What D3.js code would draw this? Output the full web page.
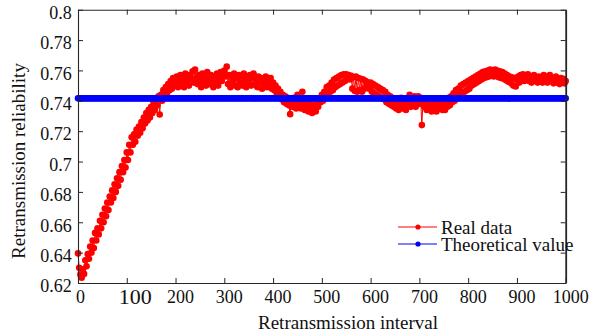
<!DOCTYPE html>
<html>
<head>
<meta charset="utf-8">
<script src="https://cdn.jsdelivr.net/npm/d3@7"></script>
<style>
  html, body { margin: 0; padding: 0; background: #fff; }
  svg { display: block; font-family: "Liberation Serif", "Times New Roman", serif; }
</style>
</head>
<body>
<svg id="chart" width="595" height="335"></svg>
<script>
// ---- data ----
const intervals = d3.range(0, 1000.1, 2.5); // retransmission interval (x), 401 samples
const realData = [
  // 0 - 47.5
  0.6395, 0.6300, 0.6255, 0.6235, 0.6290, 0.6260, 0.6350, 0.6310, 0.6390, 0.6360,
  0.6440, 0.6400, 0.6480, 0.6430, 0.6530, 0.6480, 0.6560, 0.6520, 0.6610, 0.6560,
  // 50 - 97.5
  0.6650, 0.6600, 0.6690, 0.6640, 0.6730, 0.6680, 0.6770, 0.6730, 0.6810, 0.6760,
  0.6850, 0.6800, 0.6890, 0.6840, 0.6930, 0.6880, 0.6970, 0.6930, 0.7010, 0.6960,
  // 100 - 147.5
  0.7060, 0.7010, 0.7110, 0.7060, 0.7160, 0.7110, 0.7180, 0.7130, 0.7210, 0.7170,
  0.7230, 0.7190, 0.7260, 0.7220, 0.7290, 0.7250, 0.7320, 0.7270, 0.7340, 0.7290,
  // 150 - 197.5
  0.7360, 0.7320, 0.7390, 0.7340, 0.7410, 0.7370, 0.7430, 0.7310, 0.7440, 0.7400,
  0.7470, 0.7430, 0.7490, 0.7450, 0.7510, 0.7470, 0.7530, 0.7480, 0.7550, 0.7500,
  // 200 - 247.5
  0.7520, 0.7560, 0.7490, 0.7540, 0.7570, 0.7510, 0.7550, 0.7490, 0.7580, 0.7530,
  0.7560, 0.7500, 0.7570, 0.7540, 0.7595, 0.7520, 0.7605, 0.7550, 0.7510, 0.7570,
  // 250 - 297.5
  0.7540, 0.7490, 0.7580, 0.7520, 0.7560, 0.7500, 0.7590, 0.7540, 0.7510, 0.7570,
  0.7530, 0.7490, 0.7560, 0.7520, 0.7580, 0.7500, 0.7550, 0.7590, 0.7530, 0.7570,
  // 300 - 347.5
  0.7600, 0.7560, 0.7625, 0.7510, 0.7570, 0.7490, 0.7560, 0.7530, 0.7580, 0.7500,
  0.7550, 0.7490, 0.7570, 0.7520, 0.7560, 0.7500, 0.7580, 0.7530, 0.7490, 0.7560,
  // 350 - 397.5
  0.7520, 0.7570, 0.7500, 0.7550, 0.7580, 0.7510, 0.7540, 0.7490, 0.7560, 0.7520,
  0.7550, 0.7480, 0.7540, 0.7510, 0.7560, 0.7490, 0.7530, 0.7500, 0.7550, 0.7480,
  // 400 - 447.5
  0.7520, 0.7470, 0.7500, 0.7450, 0.7480, 0.7430, 0.7460, 0.7410, 0.7440, 0.7390,
  0.7430, 0.7380, 0.7420, 0.7370, 0.7312, 0.7400, 0.7360, 0.7420, 0.7380, 0.7350,
  // 450 - 497.5
  0.7440, 0.7370, 0.7400, 0.7350, 0.7460, 0.7380, 0.7340, 0.7410, 0.7360, 0.7330,
  0.7390, 0.7350, 0.7320, 0.7370, 0.7340, 0.7330, 0.7380, 0.7360, 0.7410, 0.7390,
  // 500 - 547.5
  0.7440, 0.7400, 0.7460, 0.7420, 0.7490, 0.7440, 0.7500, 0.7460, 0.7520, 0.7470,
  0.7540, 0.7490, 0.7550, 0.7500, 0.7560, 0.7510, 0.7570, 0.7520, 0.7575, 0.7530,
  // 550 - 597.5
  0.7575, 0.7550, 0.7570, 0.7540, 0.7565, 0.7480, 0.7555, 0.7465, 0.7560, 0.7460,
  0.7550, 0.7470, 0.7545, 0.7460, 0.7540, 0.7480, 0.7530, 0.7500, 0.7520, 0.7480,
  // 600 - 647.5
  0.7520, 0.7460, 0.7510, 0.7450, 0.7500, 0.7440, 0.7490, 0.7430, 0.7480, 0.7420,
  0.7470, 0.7410, 0.7460, 0.7390, 0.7440, 0.7380, 0.7430, 0.7370, 0.7420, 0.7360,
  // 650 - 697.5
  0.7400, 0.7350, 0.7390, 0.7340, 0.7380, 0.7420, 0.7350, 0.7400, 0.7370, 0.7340,
  0.7410, 0.7380, 0.7440, 0.7360, 0.7410, 0.7380, 0.7430, 0.7360, 0.7400, 0.7430,
  // 700 - 747.5
  0.7380, 0.7420, 0.7240, 0.7400, 0.7360, 0.7410, 0.7340, 0.7380, 0.7350, 0.7400,
  0.7330, 0.7370, 0.7340, 0.7390, 0.7330, 0.7360, 0.7400, 0.7350, 0.7380, 0.7340,
  // 750 - 797.5
  0.7380, 0.7340, 0.7400, 0.7360, 0.7420, 0.7370, 0.7430, 0.7390, 0.7450, 0.7400,
  0.7470, 0.7420, 0.7480, 0.7440, 0.7500, 0.7450, 0.7510, 0.7460, 0.7520, 0.7470,
  // 800 - 847.5
  0.7530, 0.7480, 0.7540, 0.7500, 0.7550, 0.7510, 0.7560, 0.7520, 0.7570, 0.7530,
  0.7580, 0.7540, 0.7590, 0.7550, 0.7595, 0.7555, 0.7600, 0.7560, 0.7605, 0.7570,
  // 850 - 897.5
  0.7600, 0.7560, 0.7605, 0.7565, 0.7600, 0.7555, 0.7595, 0.7550, 0.7590, 0.7545,
  0.7580, 0.7535, 0.7570, 0.7525, 0.7560, 0.7515, 0.7555, 0.7500, 0.7550, 0.7495,
  // 900 - 947.5
  0.7540, 0.7560, 0.7520, 0.7570, 0.7540, 0.7575, 0.7530, 0.7560, 0.7545, 0.7575,
  0.7530, 0.7560, 0.7520, 0.7550, 0.7570, 0.7530, 0.7550, 0.7520, 0.7560, 0.7530,
  // 950 - 1000
  0.7550, 0.7520, 0.7570, 0.7540, 0.7560, 0.7520, 0.7545, 0.7570, 0.7530, 0.7550,
  0.7515, 0.7545, 0.7560, 0.7520, 0.7540, 0.7510, 0.7550, 0.7525, 0.7545, 0.7515,
  0.7530
];
const theoreticalValue = 0.7416;
const xTicks = [0, 100, 200, 300, 400, 500, 600, 700, 800, 900, 1000];
const yTicks = [0.62, 0.64, 0.66, 0.68, 0.7, 0.72, 0.74, 0.76, 0.78, 0.8];
const yTickLabels = ["0.62", "0.64", "0.66", "0.68", "0.7", "0.72", "0.74", "0.76", "0.78", "0.8"];
const legendLabels = ["Real data", "Theoretical value"];
const seriesColors = ["#ff0000", "#0000ff"];

// ---- layout ----
const svg = d3.select("#chart");
const L = 78, R = 565.7, T = 9.7, B = 283;
const x = d3.scaleLinear().domain([0, 1000]).range([L, R]);
const y = d3.scaleLinear().domain([0.62, 0.8]).range([B, T]);

const realPts = intervals.map((v, i) => [v, realData[i]]);
const theoPts = intervals.map(v => [v, theoreticalValue]);

const line = d3.line().x(d => x(d[0])).y(d => y(d[1]));

function drawSeries(pts, color, r) {
  const g = svg.append("g");
  g.append("path").attr("d", line(pts)).attr("fill", "none")
    .attr("stroke", color).attr("stroke-width", 1);
  g.selectAll("circle").data(pts).join("circle")
    .attr("cx", d => x(d[0])).attr("cy", d => y(d[1])).attr("r", r)
    .attr("fill", color);
}
drawSeries(realPts, seriesColors[0], 3.3);
drawSeries(theoPts, seriesColors[1], 3.3);

// ---- axes ----
const axisColor = "#262626";
function styleAxis(g) {
  g.selectAll("path.domain").attr("stroke", axisColor).attr("stroke-width", 1.1);
  g.selectAll(".tick line").attr("stroke", axisColor).attr("stroke-width", 1);
}
const gx = svg.append("g").attr("transform", `translate(0,${B})`)
  .call(d3.axisBottom(x).tickValues(xTicks).tickSizeInner(-5).tickSizeOuter(0).tickPadding(7).tickFormat(d3.format("d")));
styleAxis(gx);
gx.selectAll(".tick text").attr("font-family", "Liberation Serif").attr("font-size", 18)
  .attr("fill", "#111").attr("dx", d => d === 0 ? 2 : 4.5);
gx.selectAll(".tick text").filter(d => d === 100).attr("font-size", 22).attr("dx", 8).attr("y", 5);

const gy = svg.append("g").attr("transform", `translate(${L},0)`)
  .call(d3.axisLeft(y).tickValues(yTicks).tickSizeInner(-5).tickSizeOuter(0).tickPadding(6.3)
    .tickFormat((d, i) => yTickLabels[i]));
styleAxis(gy);
gy.selectAll(".tick text").attr("font-family", "Liberation Serif").attr("font-size", 18)
  .attr("fill", "#111").attr("y", 3);

const gt = svg.append("g").attr("transform", `translate(0,${T})`)
  .call(d3.axisTop(x).tickValues(xTicks).tickSizeInner(-5).tickSizeOuter(0).tickFormat(""));
styleAxis(gt);
const gr = svg.append("g").attr("transform", `translate(${R},0)`)
  .call(d3.axisRight(y).tickValues(yTicks).tickSizeInner(-5).tickSizeOuter(0).tickFormat(""));
styleAxis(gr);
gr.select("path.domain").attr("stroke-width", 1.8);

// ---- titles ----
svg.append("text").attr("x", 348).attr("y", 329).attr("text-anchor", "middle")
  .attr("font-size", 19).attr("fill", "#111").text("Retransmission interval");
svg.append("text").attr("transform", "translate(25,161) rotate(-90)").attr("text-anchor", "middle")
  .attr("font-size", 19).attr("fill", "#111").text("Retransmission reliability");

// ---- legend ----
const legend = svg.append("g");
legendLabels.forEach((lab, i) => {
  const ly = 227 + i * 17;
  legend.append("line").attr("x1", 398).attr("x2", 437).attr("y1", ly).attr("y2", ly)
    .attr("stroke", seriesColors[i]).attr("stroke-width", 1);
  legend.append("circle").attr("cx", 418).attr("cy", ly).attr("r", 2.6).attr("fill", seriesColors[i]);
  legend.append("text").attr("x", 441).attr("y", ly + 6.5).attr("font-size", 19)
    .attr("fill", "#111").text(lab);
});
</script>
</body>
</html>
